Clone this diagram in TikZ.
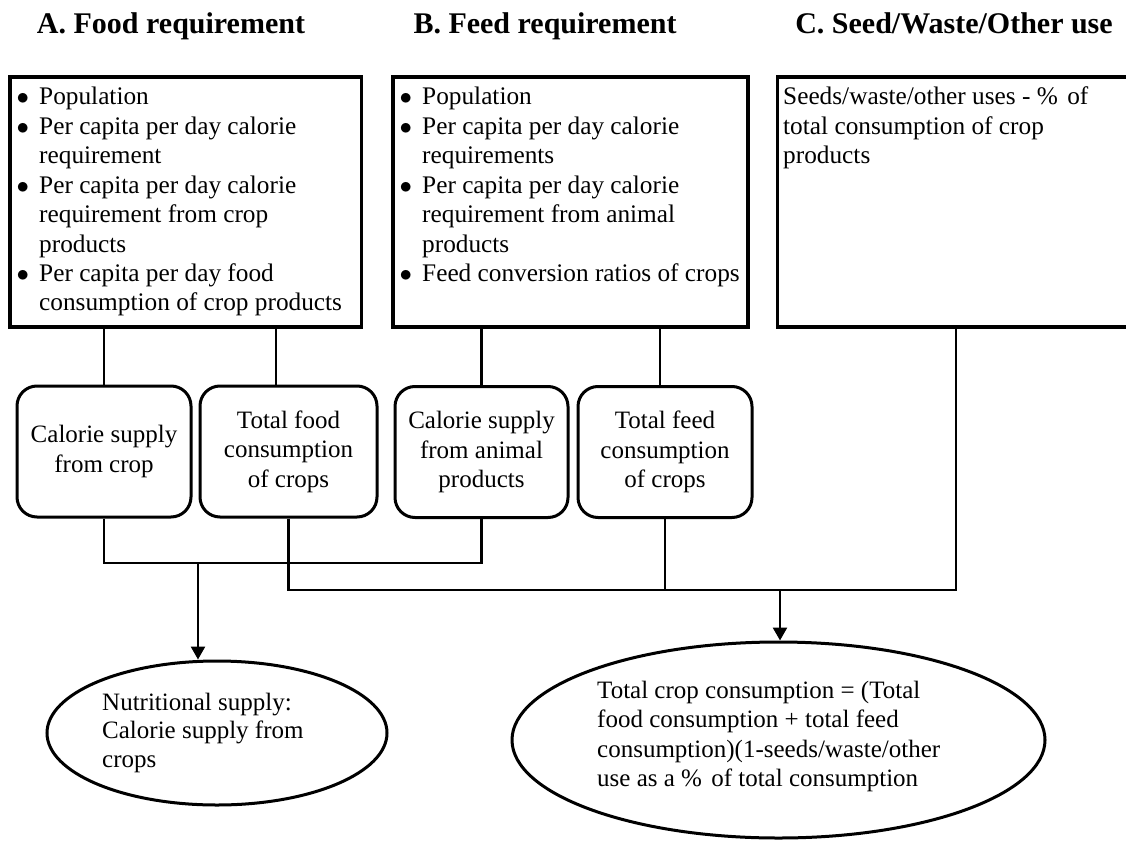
\documentclass[tikz,border=0pt]{standalone}
\usepackage{fontspec}
\setmainfont{Liberation Serif}
\usetikzlibrary{arrows.meta,shapes.geometric}
\newcommand\bitem[1]{\par\noindent\hangindent=23pt\hangafter=1\makebox[23pt][l]{\hspace{0.5pt}$\bullet$}#1\par}
\begin{document}
\begin{tikzpicture}[x=1pt,y=-1pt,
  box/.style={draw, line width=3.6pt, rectangle, inner sep=0pt},
  rbox/.style={draw, line width=3pt, rounded corners=20pt, minimum width=174pt, minimum height=131pt, align=center, inner sep=0pt, font=\fontsize{25}{29.5}\selectfont},
  oval/.style={draw, ellipse, line width=3pt, inner sep=0pt},
  conn/.style={line width=2.6pt},
  arr/.style={conn, -{Triangle[width=14pt,length=13pt]}},
  title/.style={font=\fontsize{30}{34}\selectfont\bfseries, anchor=base, inner sep=0pt},
  txt/.style={anchor=base west, inner sep=0pt}]
\useasboundingbox (0,0) rectangle (1126,840);

% titles
\node[title] (tiA) at (171,34) {A. Food requirement};
\node[title] (tiB) at (545,34) {B. Feed requirement};
\node[title] (tiC) at (954,34) {C. Seed/Waste/Other use};

% top boxes
\node[box, minimum width=351.5pt, minimum height=250pt] (boxA) at (185.75,202) {};
\node[box, minimum width=355pt, minimum height=250pt] (boxB) at (570.5,202) {};
\node[box, minimum width=360pt, minimum height=250pt] (boxC) at (957.5,202) {};

\node[txt] (tA) at (16,105) {\begin{minipage}[t]{345pt}\fontsize{25.3}{29.4}\selectfont
\bitem{Population}
\bitem{Per capita per day calorie\newline requirement}
\bitem{Per capita per day calorie\newline requirement from crop\newline products}
\bitem{Per capita per day food\newline consumption of crop products}
\end{minipage}};

\node[txt] (tB) at (399,105) {\begin{minipage}[t]{345pt}\fontsize{25.3}{29.4}\selectfont
\bitem{Population}
\bitem{Per capita per day calorie\newline requirements}
\bitem{Per capita per day calorie\newline requirement from animal\newline products}
\bitem{Feed conversion ratios of crops}
\end{minipage}};

\node[txt] (tC) at (783,105) {\begin{minipage}[t]{340pt}\fontsize{25.3}{29.2}\selectfont\raggedright
Seeds/waste/other uses - \%\hspace{0.12em} of\\
total consumption of crop\\
products
\end{minipage}};

% rounded boxes
\node[rbox] (rb1) at (104,451.5) {Calorie supply\\from crop};
\node[rbox, minimum width=177pt] (rb2) at (288.5,451.5) {Total food\\consumption\\of crops};
\node[rbox, minimum width=173pt] (rb3) at (481.5,452) {Calorie supply\\from animal\\products};
\node[rbox] (rb4) at (665,452) {Total feed\\consumption\\of crops};

% ellipses
\node[oval, minimum width=340pt, minimum height=144pt] (ell1) at (217,733) {};
\node[oval, minimum width=533pt, minimum height=196pt] (ell2) at (778.5,740) {};

\node[txt] (tE1) at (102,710) {\begin{minipage}[t]{260pt}\fontsize{25}{28.6}\selectfont\raggedright
Nutritional supply:\\
Calorie supply from\\
crops
\end{minipage}};

\node[txt] (tE2) at (597,698) {\begin{minipage}[t]{400pt}\fontsize{25}{29.6}\selectfont\raggedright
Total crop consumption = (Total\\
food consumption + total feed\\
consumption)(1-seeds/waste/other\\
use as a \%\hspace{0.12em} of total consumption
\end{minipage}};

% helper coordinates
\coordinate (cA2) at (276,0);
\coordinate (cB2) at (660,0);
\coordinate (cC) at (956,0);
\coordinate (h1) at (0,563);
\coordinate (h2) at (0,590);
\coordinate (a1) at (198,563);
\coordinate (a2) at (780,590);

% connectors top boxes -> rounded boxes
\draw[conn] (boxA.south -| rb1.north) -- (rb1.north);
\draw[conn] (boxA.south -| cA2) -- (rb2.north -| cA2);
\draw[conn] (boxB.south -| rb3.north) -- (rb3.north);
\draw[conn] (boxB.south -| cB2) -- (rb4.north -| cB2);

% lower connectors
\draw[conn] (rb1.south) -- (rb1.south |- h1) -- (rb3.south |- h1) -- (rb3.south);
\draw[conn] (rb2.south) -- (rb2.south |- h2) -- (cC |- h2) -- (boxC.south -| cC);
\draw[conn] (rb4.south) -- (rb4.south |- h2);

% arrows
\draw[arr] (a1) -- (a1 |- ell1.north);
\draw[arr] (a2) -- (a2 |- ell2.north);
\end{tikzpicture}
\end{document}
